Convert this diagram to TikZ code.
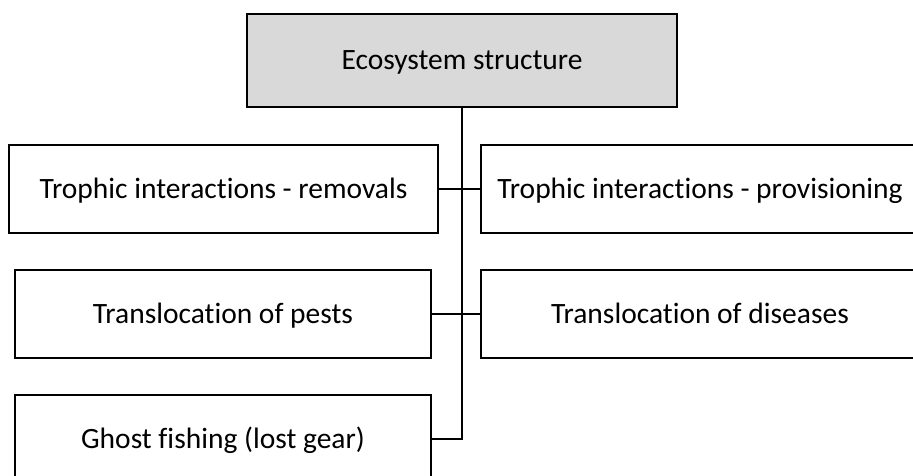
\documentclass[tikz,border=0pt]{standalone}
\usepackage{fontspec}
\setmainfont{Carlito}[RawFeature={-liga}]
\begin{document}
\begin{tikzpicture}[x=1pt,y=-1pt,
  box/.style={draw=black, line width=1.6pt, fill=white, inner sep=0pt, text height=24pt, text depth=6pt, font=\fontsize{29.5}{34}\selectfont},
  conn/.style={draw=black, line width=1.3pt},
  spine/.style={draw=black, line width=2pt}]
\useasboundingbox (0,0) rectangle (913,475);
\clip (0,0) rectangle (913,475);
\node[box, fill={rgb,255:red,217;green,217;blue,217}, minimum width=430pt, minimum height=93pt] (top) at (462,60.5) {Ecosystem structure};
\node[box, minimum width=429pt, minimum height=88pt] (l1) at (223.5,189) {Trophic interactions - removals};
\node[box, minimum width=438pt, minimum height=88pt] (r1) at (700,189) {Trophic interactions - provisioning};
\node[box, minimum width=416pt, minimum height=88pt] (l2) at (223,314) {Translocation of pests};
\node[box, minimum width=438pt, minimum height=88pt] (r2) at (700,314) {Translocation of diseases};
\node[box, minimum width=416pt, minimum height=88pt] (l3) at (223,439) {Ghost fishing (lost gear)};
\draw[spine] (top.south) -- (top.south |- l2.east);
\draw[conn] (top.south |- l2.east) -- (top.south |- l3.east) -- (l3.east);
\draw[conn] (l1.east) -- (r1.west);
\draw[conn] (l2.east) -- (r2.west);
\end{tikzpicture}
\end{document}
